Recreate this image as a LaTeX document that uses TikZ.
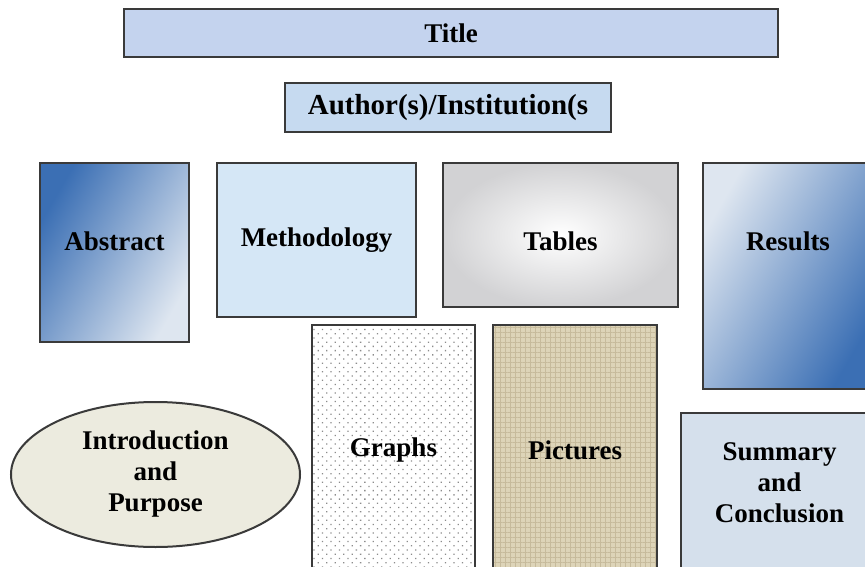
\documentclass[tikz,border=0pt]{standalone}
\usepackage{fontspec}
\setmainfont{Liberation Serif}
\usepackage{tikz}
\usetikzlibrary{shapes.geometric,patterns.meta}

\definecolor{edgegray}{HTML}{3A3A3A}
\definecolor{pastelblue}{HTML}{C4D3EE}
\definecolor{pastelpink}{HTML}{DCD0EC}
\definecolor{authorblue}{HTML}{C6DAF0}
\definecolor{deepblue}{HTML}{3B6FB4}
\definecolor{paleblue}{HTML}{DEE6F0}
\definecolor{iceblue}{HTML}{D5E7F6}
\definecolor{marble}{HTML}{D2D2D4}
\definecolor{burlap}{HTML}{DDD4B8}
\definecolor{burlapdark}{HTML}{C7BB9C}
\definecolor{slateblue}{HTML}{D5E0EC}
\definecolor{parchment}{HTML}{ECEBDF}

\begin{document}
\begin{tikzpicture}[x=1pt, y=-1pt,
	panel/.style={draw=edgegray, line width=2pt, rectangle, inner sep=0pt, align=center,
		font=\bfseries\fontsize{27}{31}\selectfont}]
	\clip (0,0) rectangle (865,567);
	\fill[white] (0,0) rectangle (865,567);

	\node (title) [panel, minimum width=654pt, minimum height=48pt, left color=pastelblue, middle color=pastelpink, right color=pastelblue] at (451,33) {Title};
	\node (author) [panel, minimum width=326pt, minimum height=49pt, fill=authorblue, font=\bfseries\fontsize{29}{33}\selectfont] at (448,107.5) {Author(s)/Institution(s};

	% top row
	\node (abstract) [panel, minimum width=149pt, minimum height=179pt, top color=deepblue, bottom color=paleblue, shading angle=60, text height=18pt, text depth=23pt] at (114.5,252.5) {Abstract};
	\node (method) [panel, minimum width=199pt, minimum height=154pt, fill=iceblue] at (316.5,240) {Methodology};
	\node (tables) [panel, minimum width=235pt, minimum height=144pt, inner color=white, outer color=marble, text height=30pt, text depth=0pt] at (560.5,235) {Tables};
	\node (results) [panel, minimum width=170pt, minimum height=226pt, top color=paleblue, bottom color=deepblue, shading angle=60, text height=18pt, text depth=70pt] at (788,276) {Results};

	% bottom row
	\node (intro) [panel, ellipse, minimum width=289pt, minimum height=145pt, fill=parchment] at (155.5,474.5) {Introduction\\and\\Purpose};
	\node (graphs) [panel, minimum width=163pt, minimum height=250pt, preaction={fill=white}, pattern={Dots[distance=6pt, radius=0.9pt, angle=45]}, pattern color=black!45] at (393.5,450) {Graphs};
	\node (pictures) [panel, minimum width=164pt, minimum height=250pt, preaction={fill=burlap}, pattern={Hatch[distance=5pt, line width=0.8pt]}, pattern color=burlapdark] at (575,450) {Pictures};
	\node (summary) [panel, minimum width=197pt, minimum height=187pt, fill=slateblue, text height=80pt, text depth=49pt] at (779.5,506.5) {Summary\\and\\Conclusion};
\end{tikzpicture}
\end{document}
